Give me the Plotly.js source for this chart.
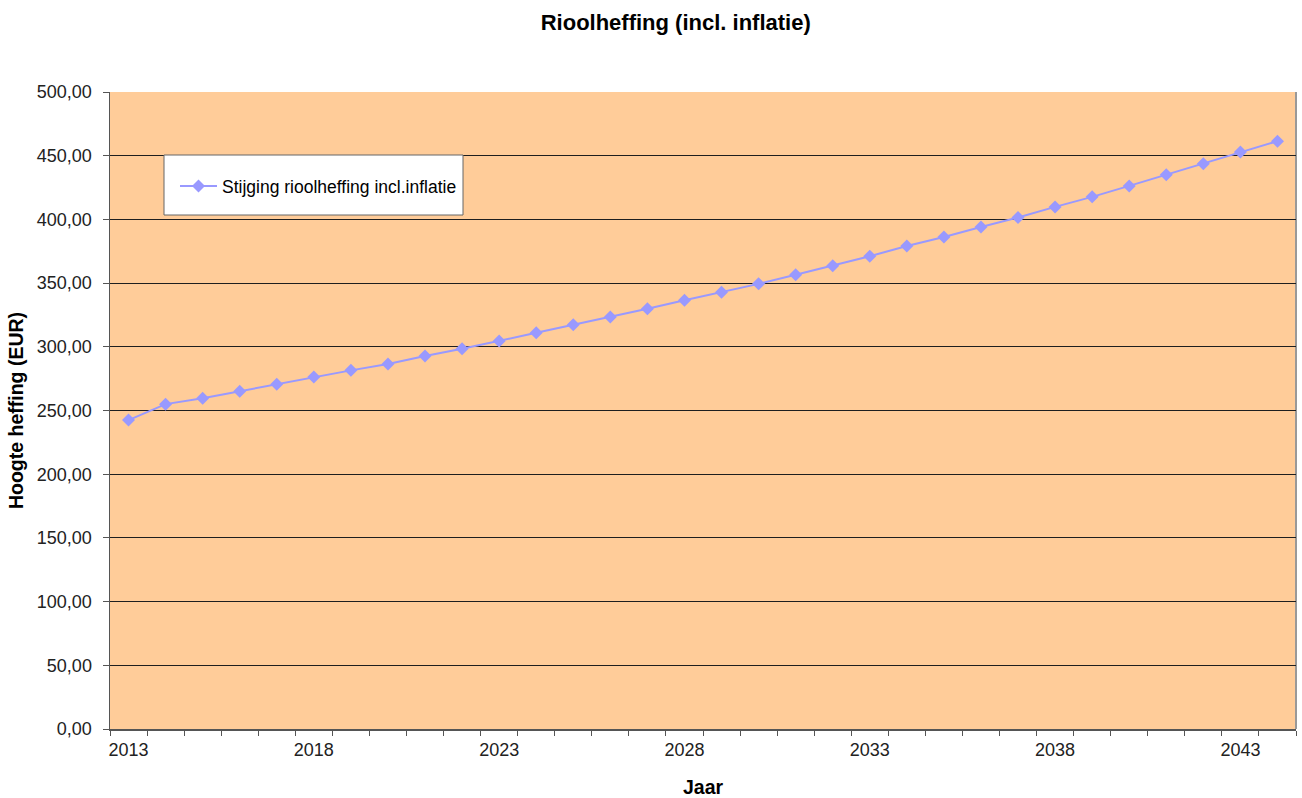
<!DOCTYPE html>
<html>
<head>
<meta charset="utf-8">
<script src="https://cdn.plot.ly/plotly-3.0.1.min.js"></script>
<style>html,body{margin:0;padding:0;background:#fff;}#chart{width:1302px;height:798px;}</style>
</head>
<body>
<div id="chart"></div>
<script>
const years = [2013,2014,2015,2016,2017,2018,2019,2020,2021,2022,2023,2024,2025,2026,2027,2028,2029,2030,2031,2032,2033,2034,2035,2036,2037,2038,2039,2040,2041,2042,2043,2044];
const heffing = [242.5,255.0,259.7,265.2,270.7,276.2,281.5,286.5,292.8,298.4,304.5,311.0,317.3,323.3,329.8,336.6,342.9,349.4,356.5,363.6,371.1,379.1,386.2,394.0,401.5,409.8,417.7,426.3,435.0,443.6,452.9,461.4];
const xTickLabels = [2013,2018,2023,2028,2033,2038,2043];
const seriesName = 'Stijging rioolheffing incl.inflatie';

const font = 'Liberation Sans, Arial, sans-serif';
const trace = {
  x: years, y: heffing, type: 'scatter', mode: 'lines+markers', name: seriesName,
  line: {color: '#9999FF', width: 2},
  marker: {symbol: 'diamond', size: 10, color: '#9999FF'},
  showlegend: true
};
const layout = {
  width: 1302, height: 798,
  margin: {l: 110, r: 6, t: 92, b: 69},
  paper_bgcolor: '#FFFFFF', plot_bgcolor: '#FFCC99',
  separators: ',.',
  font: {family: font, color: '#000'},
  title: {text: '<b>Rioolheffing (incl. inflatie)</b>', font: {family: font, size: 22, color: '#000'}, xref: 'container', x: 0.519, xanchor: 'center', yref: 'container', y: 0.972, yanchor: 'middle'},
  xaxis: {
    range: [2012.5, 2044.5], tickvals: xTickLabels, ticktext: xTickLabels.map(String),
    ticks: 'outside', ticklen: 0, tickcolor: 'rgba(0,0,0,0)', ticklabelstandoff: 4,
    minor: {ticks: 'outside', tick0: 2012.5, dtick: 1, ticklen: 5, tickcolor: '#555', showgrid: false},
    showgrid: false, zeroline: false, showline: true, linecolor: '#555', linewidth: 1.5,
    tickfont: {family: font, size: 18, color: '#222'},
    title: {text: '<b>Jaar</b>', font: {family: font, size: 19.5, color: '#000'}, standoff: 26}
  },
  yaxis: {
    range: [0, 500], dtick: 50, tickformat: '.2f',
    ticks: 'outside', ticklen: 6, tickcolor: '#555', ticklabelstandoff: 7,
    showgrid: true, gridcolor: '#1e1e1e', gridwidth: 1, zeroline: false,
    showline: true, linecolor: '#555', linewidth: 1.5,
    tickfont: {family: font, size: 18, color: '#222'},
    title: {text: '<b>Hoogte heffing (EUR)</b>', font: {family: font, size: 19.5, color: '#000'}, standoff: 8}
  },
  legend: {
    x: (175-110)/1186, y: (729-168)/637, xanchor: 'left', yanchor: 'top',
    bgcolor: 'rgba(0,0,0,0)', borderwidth: 0, itemwidth: 37,
    font: {family: font, size: 17.5, color: '#000'}
  },
  shapes: [
    {type: 'rect', xref: 'paper', yref: 'paper', x0: (164-110)/1186, x1: (463-110)/1186, y0: (729-215)/637, y1: (729-155)/637, fillcolor: '#FFFFFF', line: {color: '#666', width: 1}, layer: 'above'},
    {type: 'line', xref: 'paper', yref: 'paper', x0: 1, x1: 1, y0: 0, y1: 1, line: {color: '#999', width: 2}, layer: 'below'}
  ]
};
Plotly.newPlot('chart', [trace], layout, {displayModeBar: false, staticPlot: true});
</script>
</body>
</html>
